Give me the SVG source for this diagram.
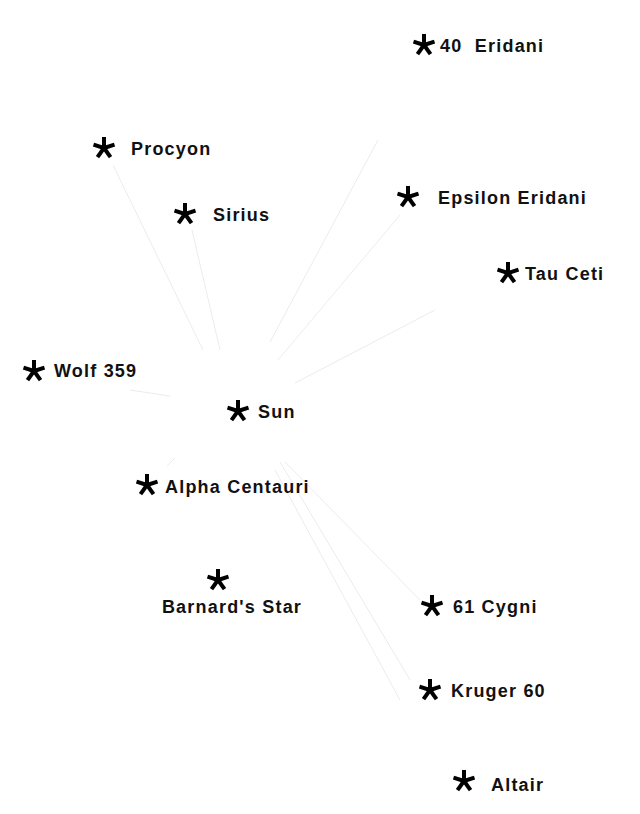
<svg xmlns="http://www.w3.org/2000/svg" width="640" height="814" viewBox="0 0 640 814">
<style>
text{font-family:"Liberation Sans",Arial,sans-serif;font-weight:bold;font-size:18px;letter-spacing:1.2px;fill:#111;white-space:pre}
.c line{stroke:#ececec;stroke-width:1}
</style>
<defs>
<g id="ast" stroke="#000" stroke-width="4" stroke-linecap="butt">
<line x1="0" y1="-11" x2="0" y2="0"/>
<line x1="0" y1="0" x2="10.5" y2="-3.4"/>
<line x1="0" y1="0" x2="-10.5" y2="-3.4"/>
<line x1="0" y1="0" x2="6.5" y2="9.2"/>
<line x1="0" y1="0" x2="-6.5" y2="9.2"/>
</g>
</defs>
<rect width="640" height="814" fill="#fff"/>
<g class="c" id="connectors">
<line x1="113" y1="165" x2="203" y2="350"/>
<line x1="192" y1="230" x2="220" y2="350"/>
<line x1="378" y1="140" x2="270" y2="342"/>
<line x1="400" y1="215" x2="278" y2="360"/>
<line x1="435" y1="310" x2="295" y2="383"/>
<line x1="130" y1="390" x2="170" y2="396"/>
<line x1="175" y1="458" x2="167" y2="466"/>
<line x1="280" y1="462" x2="410" y2="680"/>
<line x1="285" y1="462" x2="420" y2="600"/>
<line x1="275" y1="470" x2="400" y2="700"/>
</g>
<g id="eridani40"><use href="#ast" x="424" y="45"/><text x="440" y="52">40  Eridani</text></g>
<g id="procyon"><use href="#ast" x="104" y="148"/><text x="131" y="155">Procyon</text></g>
<g id="epsilon"><use href="#ast" x="408" y="197"/><text x="438" y="204">Epsilon Eridani</text></g>
<g id="sirius"><use href="#ast" x="185" y="214"/><text x="213" y="221">Sirius</text></g>
<g id="tauceti"><use href="#ast" x="508" y="273"/><text x="525" y="280">Tau Ceti</text></g>
<g id="wolf"><use href="#ast" x="34" y="371"/><text x="54" y="377">Wolf 359</text></g>
<g id="sun"><use href="#ast" x="238" y="411"/><text x="258" y="418">Sun</text></g>
<g id="alpha"><use href="#ast" x="147" y="485"/><text x="165" y="493">Alpha Centauri</text></g>
<g id="barnard"><use href="#ast" x="218" y="580"/><text x="232" y="613" text-anchor="middle">Barnard's Star</text></g>
<g id="cygni"><use href="#ast" x="432" y="606"/><text x="453" y="613">61 Cygni</text></g>
<g id="kruger"><use href="#ast" x="430" y="690"/><text x="451" y="697">Kruger 60</text></g>
<g id="altair"><use href="#ast" x="464" y="781"/><text x="491" y="791">Altair</text></g>
</svg>
